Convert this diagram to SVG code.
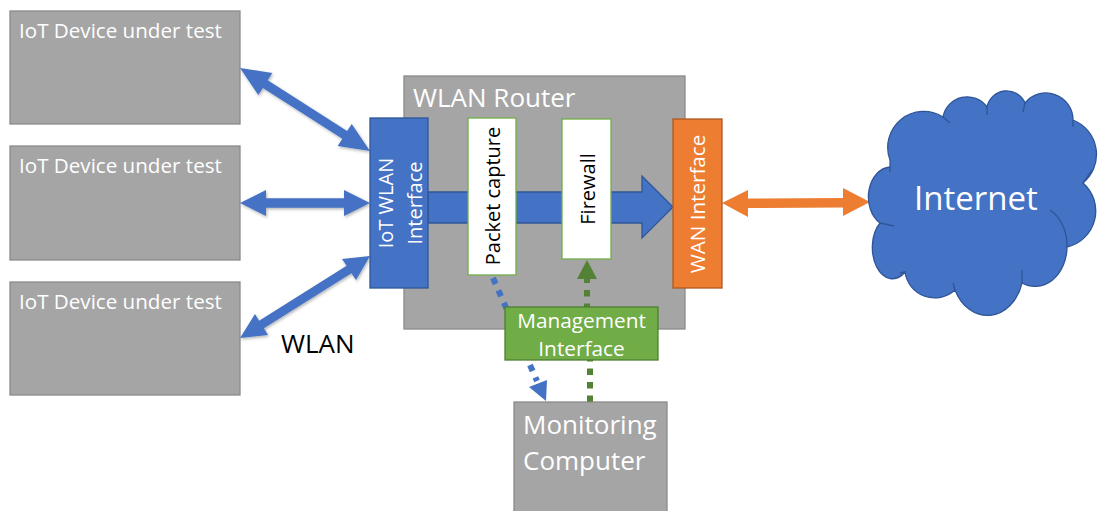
<svg xmlns="http://www.w3.org/2000/svg" width="1098" height="511" viewBox="0 0 1098 511">
<style>
text{font-family:"Open Sans","Noto Sans",sans-serif;fill:#fff}
.gray{fill:#a5a5a5;stroke:#8a8a8a;stroke-width:1.3}
.blue{fill:#4472c4;stroke:#2f5597;stroke-width:1.3}
.white{fill:#fff;stroke:#70ad47;stroke-width:1.3}
.dark{fill:#000}
.wire{fill:#4472c4;filter:url(#sh)}
.dotb{stroke:#4472c4;stroke-width:6;stroke-dasharray:6.5 7;fill:none}
.dotg{stroke:#548235;stroke-width:6;stroke-dasharray:6.5 7;fill:none}
</style>
<defs><filter id="sh" x="-20%" y="-20%" width="140%" height="140%"><feDropShadow dx="1" dy="1.5" stdDeviation="1.5" flood-color="#000" flood-opacity=".3"/></filter></defs>
<g id="device1"><rect class="gray" x="10" y="11" width="230" height="113"/><text x="19" y="38" font-size="20.6">IoT Device under test</text></g>
<g id="device2"><rect class="gray" x="10" y="146" width="230" height="114"/><text x="19" y="173" font-size="20.6">IoT Device under test</text></g>
<g id="device3"><rect class="gray" x="10" y="282" width="230" height="113"/><text x="19" y="309" font-size="20.6">IoT Device under test</text></g>
<g id="router"><rect class="gray" x="404" y="76" width="281" height="253"/><text x="413" y="107" font-size="26">WLAN Router</text></g>
<g id="connectors">
<polygon class="wire" points="240,68 272.3,73.1 267.7,80.3 347.1,131.1 351.7,123.9 370,151 337.7,145.9 342.3,138.7 262.9,87.9 258.3,95.1"/>
<polygon class="wire" points="240,203 266,190 266,198.3 344,198.3 344,190 370,203 344,216 344,207.7 266,207.7 266,216"/>
<polygon class="wire" points="240,338 255,314 259.1,320.7 346.6,265.7 342,259 370,256 356,280 351.4,273.3 263.9,328.3 268,335"/>
<polygon points="428,192 642,192 642,176 673,207 642,238 642,223 428,223" class="blue"/>
<polygon fill="#ed7d31" points="722,203 748,190 748,198.5 843,198 843,188 870,202 843,216 843,207.5 748,208 748,217"/>
<path class="dotb" d="M493 278L530 362"/>
<path class="dotb" d="M530 365L537 381"/>
<polygon fill="#4472c4" points="546,401 529,387 547,380"/>
<path class="dotg" d="M587 310V272"/>
<polygon fill="#548235" points="587,260 597,279 577,279"/>
<path class="dotg" d="M590 402V360"/>
</g>
<g id="wlan-if"><rect class="blue" x="370" y="118" width="58" height="170"/><text transform="translate(393,203) rotate(-90)" text-anchor="middle" font-size="20">IoT WLAN</text><text transform="translate(422,203) rotate(-90)" text-anchor="middle" font-size="20">Interface</text></g>
<g id="packet"><rect class="white" x="468" y="118" width="48" height="157"/><text class="dark" transform="translate(500,196) rotate(-90)" text-anchor="middle" font-size="20">Packet capture</text></g>
<g id="firewall"><rect class="white" x="562" y="119" width="49" height="140"/><text class="dark" transform="translate(595,189) rotate(-90)" text-anchor="middle" font-size="20">Firewall</text></g>
<g id="wan-if"><rect x="673" y="119" width="49" height="169" fill="#ed7d31" stroke="#ae5a21" stroke-width="1.3"/><text transform="translate(705,204) rotate(-90)" text-anchor="middle" font-size="20.6">WAN Interface</text></g>
<g id="mgmt"><rect x="505" y="307" width="153" height="53" fill="#70ad47" stroke="#507e32" stroke-width="1.3"/><text x="581.5" y="328" text-anchor="middle" font-size="20.8">Management</text><text x="581.5" y="356" text-anchor="middle" font-size="20.8">Interface</text></g>
<g id="monitor"><rect class="gray" x="514" y="402" width="153" height="112"/><text x="523" y="434" font-size="26">Monitoring</text><text x="523" y="470" font-size="26">Computer</text></g>
<g id="internet"><path class="blue" d="M890 167L890 160A36 36 0 0 1 943 117A24.5 24.5 0 0 1 987 107A20 20 0 0 1 1025 103A27 27 0 0 1 1073 120A37 37 0 0 1 1083 183A37 37 0 0 1 1067 247A32 40 0 0 1 1022 283A36 45 0 0 1 955 290A30 30 0 0 1 905 272A20 31 0 0 1 880 223A23 30 0 0 1 890 167Z"/>
<path class="blue" style="fill:none" d="M890 167V172M943 117L950 123M987 107V115M1025 103L1023 112M1073 120V127M1083 183L1092 170M1067 247A32 40 0 0 0 1050 210M1022 283V270M955 290L953 283M905 272L900 273M880 223L894 226"/>
<text x="976" y="210" text-anchor="middle" font-size="33">Internet</text></g>
<g id="wlan-label"><text class="dark" x="281" y="353" font-size="26">WLAN</text></g>
</svg>
